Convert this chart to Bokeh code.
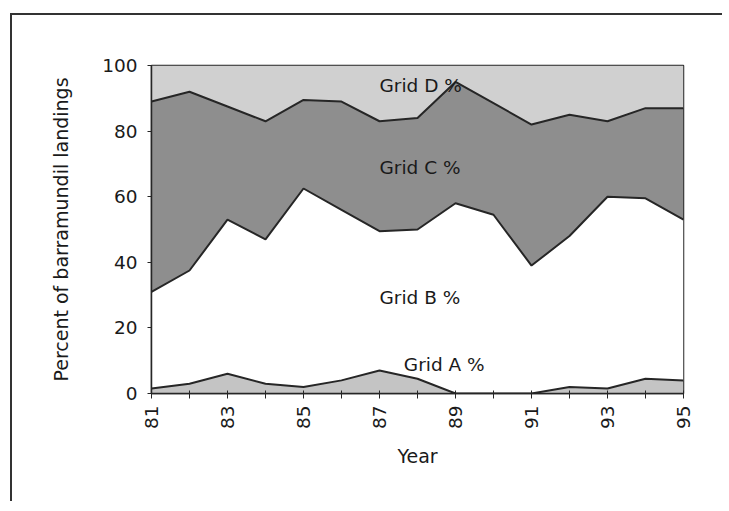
import math
from bokeh.plotting import figure
from bokeh.models import ColumnDataSource, Range1d, FixedTicker, Label
from bokeh.embed import file_html
from bokeh.resources import INLINE

# ---- data (percent of barramundi landings by grid, stacked to 100) ----
years = [81, 82, 83, 84, 85, 86, 87, 88, 89, 90, 91, 92, 93, 94, 95]
grid_a = [1.5, 3, 6, 3, 2, 4, 7, 4.5, 0, 0, 0, 2, 1.5, 4.5, 4]
grid_b = [29.5, 34.5, 47, 44, 60.5, 52, 42.5, 45.5, 58, 54.5, 39, 46, 58.5, 55, 49]
grid_c = [58, 54.5, 34.5, 36, 27, 33, 33.5, 34, 37, 34, 43, 37, 23, 27.5, 34]
grid_d = [11, 8, 12.5, 17, 10.5, 11, 17, 16, 5, 11.5, 18, 15, 17, 13, 13]
series_names = ["Grid A %", "Grid B %", "Grid C %", "Grid D %"]
y_ticks = [0, 20, 40, 60, 80, 100]

FONT = "DejaVu Sans"
INK = "#262626"

src = ColumnDataSource(dict(year=years, a=grid_a, b=grid_b, c=grid_c, d=grid_d))

p = figure(width=712, height=488, output_backend="svg", toolbar_location=None,
           x_range=Range1d(81, 95), y_range=Range1d(0, 100),
           min_border_left=139, min_border_right=41, min_border_top=50,
           min_border_bottom=110)
p.margin = (13, 0, 0, 10)
p.styles = {"border-top": "2px solid #333", "border-left": "2px solid #333"}

p.varea_stack(["a", "b", "c", "d"], x="year", source=src,
              color=["#c4c4c4", "#ffffff", "#8e8e8e", "#d0d0d0"])
p.vline_stack(["a", "b", "c"], x="year", source=src,
              line_color=INK, line_width=2)

p.xgrid.visible = False
p.ygrid.visible = False
p.outline_line_color = INK
p.outline_line_width = 1.5
p.background_fill_color = "white"
p.border_fill_color = "white"

# x axis
xa = p.xaxis[0]
xa.ticker = FixedTicker(ticks=years)
xa.major_label_overrides = {y: (str(y) if y % 2 == 1 else "") for y in years}
xa.major_label_orientation = math.pi / 2
xa.minor_tick_line_color = None
xa.major_tick_in = 3
xa.major_tick_out = 5
xa.major_label_standoff = 7
xa.axis_label = "Year"
xa.axis_label_standoff = 13
# y axis
ya = p.yaxis[0]
ya.ticker = FixedTicker(ticks=y_ticks)
ya.minor_tick_line_color = None
ya.major_tick_in = 0
ya.major_tick_out = 4
ya.major_label_standoff = 10
ya.axis_label = "Percent of barramundil landings"
ya.axis_label_standoff = 27

for ax in (xa, ya):
    ax.axis_line_color = INK
    ax.axis_line_width = 1.5
    ax.major_tick_line_color = INK
    ax.major_label_text_font = FONT
    ax.major_label_text_font_size = "18.5px"
    ax.major_label_text_color = "#1a1a1a"
    ax.axis_label_text_font = FONT
    ax.axis_label_text_font_size = "19px"
    ax.axis_label_text_font_style = "normal"
    ax.axis_label_text_color = "#1a1a1a"

# in-chart series labels (data-space anchors)
label_x = [87.64, 87.0, 87.0, 87.0]
label_y = [8.7, 29.2, 69.0, 93.9]
for name, lx, ly in zip(series_names, label_x, label_y):
    p.add_layout(Label(x=lx, y=ly, text=name, text_font=FONT,
                       text_font_size="18.5px", text_color="#1a1a1a",
                       text_align="left", text_baseline="middle"))

open("out.html", "w").write(file_html(p, INLINE))
